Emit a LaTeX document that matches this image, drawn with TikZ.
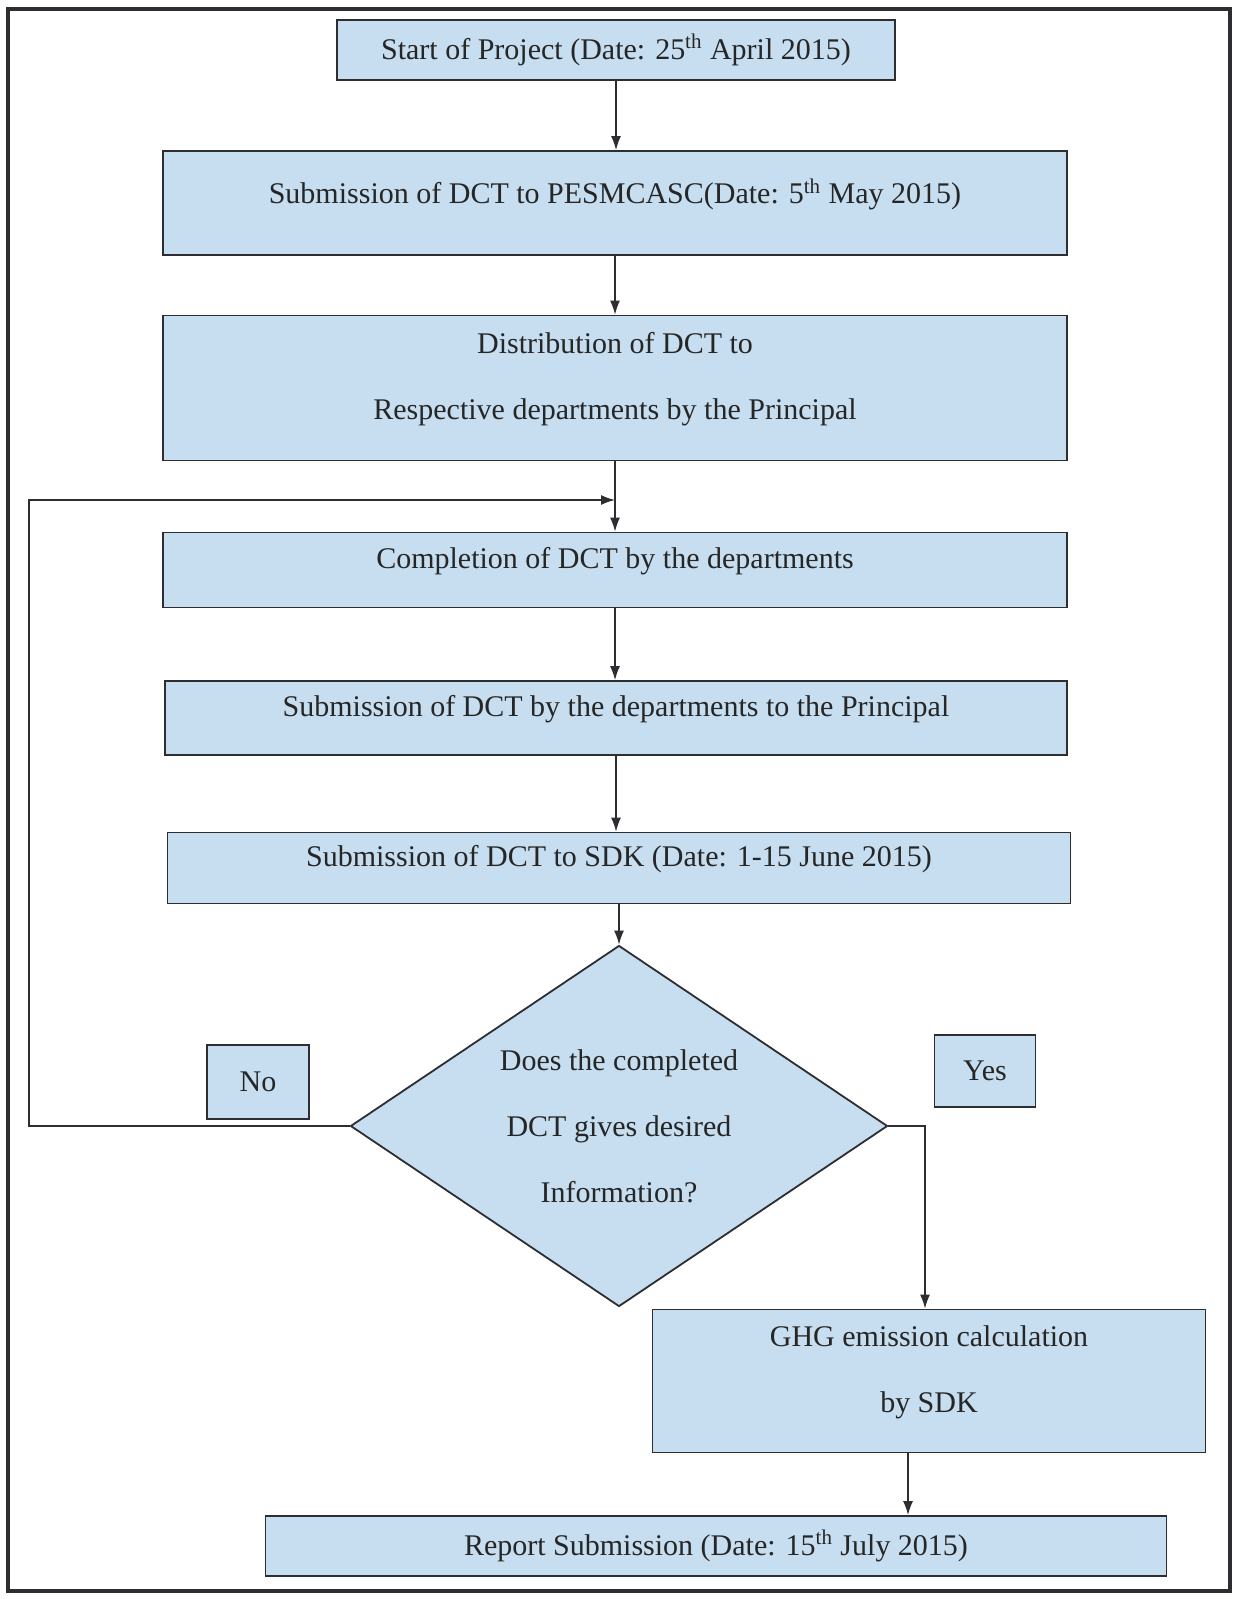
\documentclass[tikz,border=0pt]{standalone}
\usepackage{fontspec}
\setmainfont{Liberation Serif}
\usetikzlibrary{arrows.meta}
\usetikzlibrary{shapes.geometric}
\definecolor{cblue}{RGB}{198,222,240}
\definecolor{cline}{RGB}{45,45,50}
\tikzset{box/.style = {draw=cline, fill=cblue, line width=0.9pt, inner sep=0pt,
                       align=center, text=black!85,
                       font=\fontsize{15}{33}\selectfont},
         lift/.style = {text depth=12pt},
         conn/.style = {draw=cline, line width=0.7pt,
                        -{Latex[length=7pt,width=5pt]}}}

\begin{document}
\begin{tikzpicture}[x=0.5pt, y=-0.5pt]
      \useasboundingbox (0,0) rectangle (1238,1599);
      \fill [white] (0,0) rectangle (1238,1599);
      \draw [cline, line width=1.6pt] (8,9) rectangle (1230,1591);

      % main column
      \node [box, minimum width=279pt, minimum height=30pt] (start) at (616,50)
            {Start of Project (Date: 25\textsuperscript{th} April 2015)};
      \node [box, lift, minimum width=452pt, minimum height=52pt] (subpes) at (615,203)
            {Submission of DCT to PESMCASC(Date: 5\textsuperscript{th} May 2015)};
      \node [box, lift, minimum width=452pt, minimum height=72.5pt] (distr) at (615,388)
            {Distribution of DCT to\\Respective departments by the Principal};
      \node [box, lift, minimum width=452pt, minimum height=37.5pt] (compl) at (615,570)
            {Completion of DCT by the departments};
      \node [box, lift, minimum width=451pt, minimum height=37pt] (subpri) at (616,718)
            {Submission of DCT by the departments to the Principal};
      \node [box, lift, minimum width=451.5pt, minimum height=35.5pt] (subsdk) at (619,868)
            {Submission of DCT to SDK (Date: 1-15 June 2015)};
      \node [box, shape=diamond, aspect=1.5, minimum width=268.5pt, minimum height=180.5pt] (dec) at (619,1126)
            {Does the completed\\DCT gives desired\\Information?};
      \node [box, minimum width=51pt, minimum height=37pt] (no) at (258,1082) {No};
      \node [box, minimum width=50.5pt, minimum height=36pt] (yes) at (985,1071) {Yes};
      \node [box, lift, minimum width=276.5pt, minimum height=71.5pt] (ghg) at (929,1381)
            {GHG emission calculation\\by SDK};
      \node [box, minimum width=450.5pt, minimum height=30pt] (report) at (716,1546)
            {Report Submission (Date: 15\textsuperscript{th} July 2015)};

      \coordinate (merge) at (615,500);
      \coordinate (back) at (29,500);

      \draw [conn] (start.south) -- (start.south |- subpes.north);
      \draw [conn] (subpes.south) -- (subpes.south |- distr.north);
      \draw [conn] (distr.south) -- (distr.south |- compl.north);
      \draw [conn] (compl.south) -- (compl.south |- subpri.north);
      \draw [conn] (subpri.south) -- (subpri.south |- subsdk.north);
      \draw [conn] (subsdk.south) -- (dec.north);

      % loop back and yes branch
      \draw [conn] (dec.west) -| (back) -- (merge);
      \draw [conn] (dec.east) -| ([xshift=-2pt]ghg.north);
      \draw [conn] ([xshift=-10.5pt]ghg.south) -- ([xshift=-10.5pt]ghg.south |- report.north);
\end{tikzpicture}
\end{document}
